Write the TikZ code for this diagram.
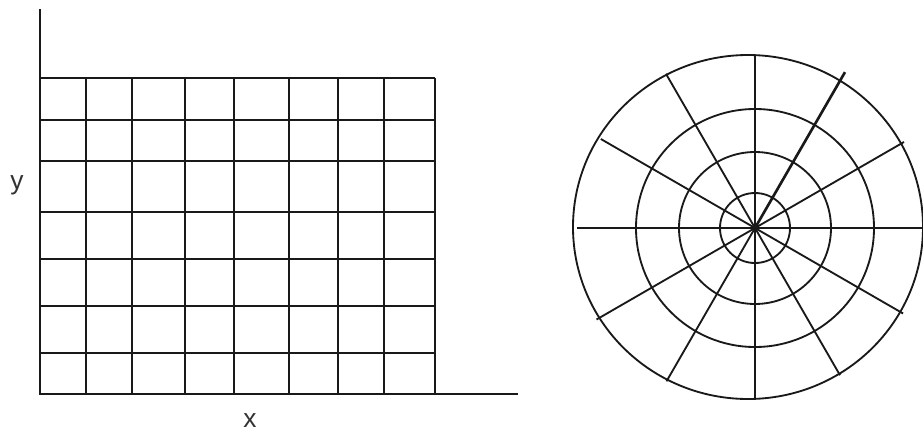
\documentclass[tikz,border=0pt]{standalone}
\usepackage{fontspec}
\setmainfont{Liberation Sans}
\usetikzlibrary{positioning}

\begin{document}
\begin{tikzpicture}[
    x=0.02cm, y=-0.02cm,
    gridline/.style={line width=1.05pt, black!90},
    axisline/.style={line width=1.2pt, black!90},
    spoke/.style={line width=1.05pt, black!90},
    ring/.style={line width=1.05pt, black!90},
    axislabel/.style={font=\fontsize{15}{17}\selectfont, text=black!80, inner sep=0pt, anchor=base}
]
    \useasboundingbox (0,0) rectangle (923,433);

    % Cartesian grid
    \foreach \gx in {86,132,185,234,289,338,384,435}
        \draw[gridline] (\gx,78) -- (\gx,394);
    \foreach \gy in {78,120,161,212,259,306,353}
        \draw[gridline] (40,\gy) -- (435,\gy);
    \coordinate (origin) at (40,394);
    \coordinate (ytop) at (40,9);
    \coordinate (xend) at (518,394);
    \draw[axisline] (ytop) -- (origin) -- (xend);
    \node[axislabel] (ylabel) at (17,189) {y};
    \node[axislabel] (xlabel) at (250,427) {x};

    % Polar grid (y axis points down, so angles are negated)
    \coordinate (pole) at (755,228);
    \foreach \r in {35,76,119}
        \draw[ring] (pole) circle[radius=\r];
    \draw[ring] (748,227) ellipse[x radius=175, y radius=172];
    \foreach \a/\len in {30/172,90/173,120/178,150/178,210/183,240/177,270/171,300/170,330/171}
        \draw[spoke] (pole) -- ++(-\a:\len);
    \draw[spoke, line width=1.5pt] (pole) -- ++(-60:180);
    \draw[spoke, line width=1.4pt] (577,228) -- (923,228);

\end{tikzpicture}
\end{document}
